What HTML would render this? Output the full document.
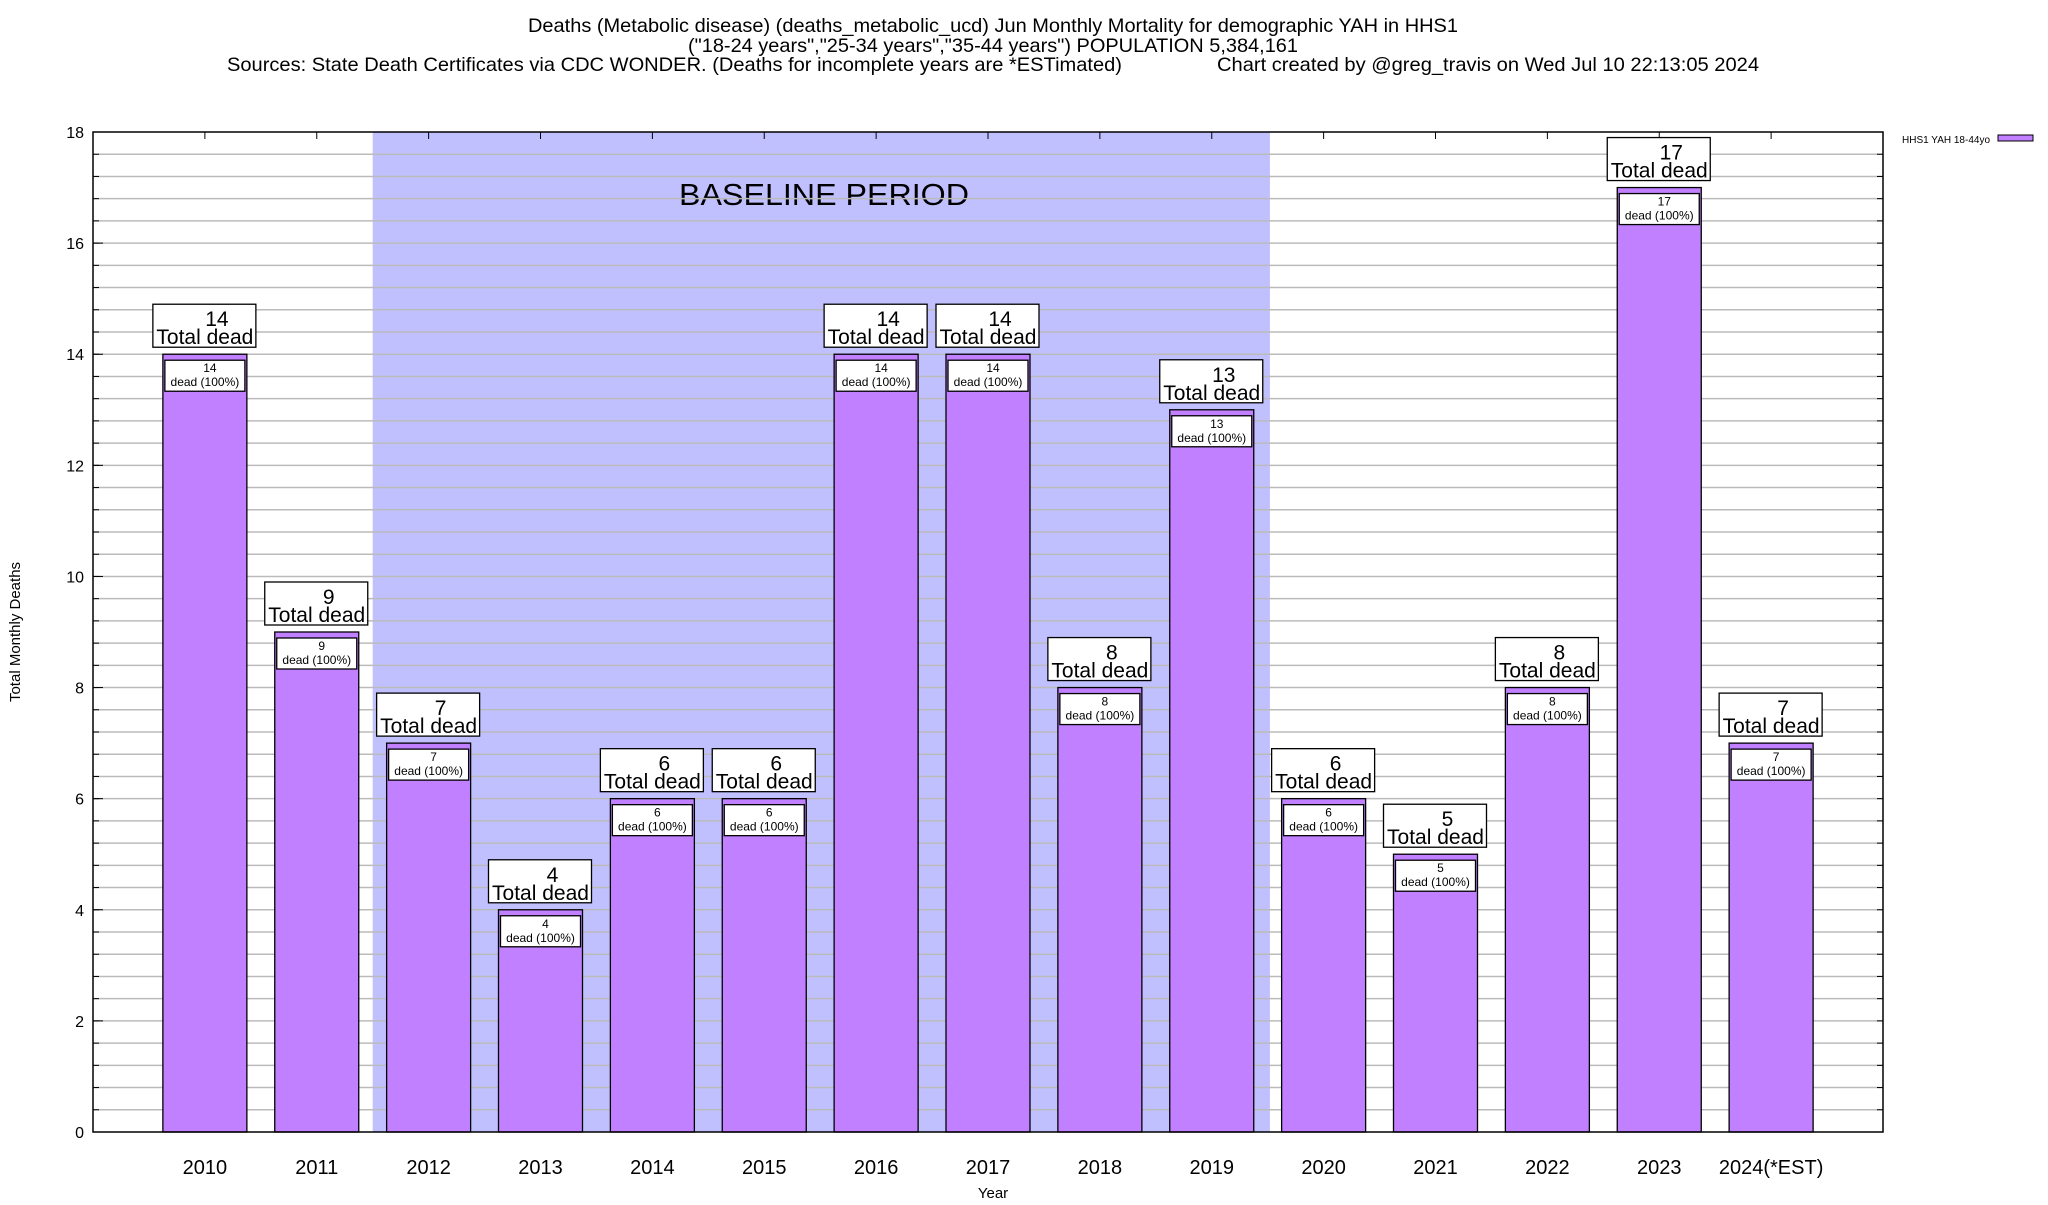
<!DOCTYPE html>
<html><head><meta charset="utf-8"><style>
body{margin:0;background:#fff;font-family:"Liberation Sans",sans-serif;}
svg text{font-family:"Liberation Sans",sans-serif;}
</style></head><body>
<svg id="chart" width="2048" height="1200" xmlns="http://www.w3.org/2000/svg">
<g font-size="19.5" fill="#000">
<text x="993" y="32" text-anchor="middle" textLength="930" lengthAdjust="spacingAndGlyphs">Deaths (Metabolic disease) (deaths_metabolic_ucd) Jun Monthly Mortality for demographic YAH in HHS1</text>
<text x="993" y="52" text-anchor="middle" textLength="610" lengthAdjust="spacingAndGlyphs">("18-24 years","25-34 years","35-44 years") POPULATION 5,384,161</text>
<text x="227" y="71" textLength="895" lengthAdjust="spacingAndGlyphs">Sources: State Death Certificates via CDC WONDER. (Deaths for incomplete years are *ESTimated)</text>
<text x="1217" y="71" textLength="542" lengthAdjust="spacingAndGlyphs">Chart created by @greg_travis on Wed Jul 10 22:13:05 2024</text>
</g>
<g id="plot"></g>
<text transform="translate(20,632) rotate(-90)" font-size="15" text-anchor="middle">Total Monthly Deaths</text>
<text x="993" y="1198" font-size="15" text-anchor="middle">Year</text>
<g>
<text x="1902" y="143" font-size="10">HHS1 YAH 18-44yo</text>
<rect x="1998" y="135" width="35" height="6" fill="#c080ff" stroke="#000" stroke-width="1"/>
</g>
</svg>
<script>
const categories=["2010","2011","2012","2013","2014","2015","2016","2017","2018","2019","2020","2021","2022","2023","2024(*EST)"];
const values=[14,9,7,4,6,6,14,14,8,13,6,5,8,17,7];
const yTicks=[0,2,4,6,8,10,12,14,16,18];
const baselineStart=1.5, baselineEnd=9.52;
const L=93,R=1883,T=132,B=1132,yMax=18,slots=16;
const sx=i=>L+(R-L)/slots*(i+1);
const sy=v=>B-(B-T)*v/yMax;
const NS="http://www.w3.org/2000/svg";
const g=document.getElementById('plot');
function el(t,a,p){const e=document.createElementNS(NS,t);for(const k in a)e.setAttribute(k,a[k]);(p||g).appendChild(e);return e;}
const bl=el('rect',{x:sx(baselineStart),y:T,width:sx(baselineEnd)-sx(baselineStart),height:B-T,fill:'#c0c0ff'});


const blt=el('text',{x:824,y:205,'font-size':31,'text-anchor':'middle',textLength:290,lengthAdjust:'spacingAndGlyphs'});blt.textContent='BASELINE PERIOD';


for(let v=0;v<=yMax+1e-6;v+=0.4){
 const y=sy(v);
 if(v>0&&v<yMax-0.01){el('line',{x1:L,x2:R,y1:y,y2:y,stroke:'#bbb','stroke-width':1.5});}
 el('line',{x1:L,x2:L+6,y1:y,y2:y,stroke:'#000'});el('line',{x1:R-6,x2:R,y1:y,y2:y,stroke:'#000'});
}
yTicks.forEach(v=>{const t=el('text',{x:84,y:sy(v)+6,'font-size':16,'text-anchor':'end'});t.textContent=v;


el('line',{x1:L,x2:L+10,y1:sy(v),y2:sy(v),stroke:'#000'});});
const bw=84;
categories.forEach((c,i)=>{
 const cx=sx(i),v=values[i],y=sy(v);
 el('line',{x1:cx,x2:cx,y1:T,y2:T+7,stroke:'#000'});
 const b=el('rect',{x:cx-bw/2,y:y,width:bw,height:B-y,fill:'#c080ff',stroke:'#000','stroke-width':1.3});
 
 
 el('rect',{x:cx-bw/2+2,y:y+6,width:bw-4,height:31,fill:'#fff',stroke:'#000','stroke-width':1.3});
 const t1=el('text',{x:cx+5,y:y+18,'font-size':12,'text-anchor':'middle'});t1.textContent=v;
 const t2=el('text',{x:cx,y:y+32,'font-size':12,'text-anchor':'middle'});t2.textContent='dead (100%)';
 const ob=el('rect',{x:cx-52,y:y-50,width:103,height:43,fill:'#fff',stroke:'#000','stroke-width':1.3});
 
 
 const t3=el('text',{x:cx+12,y:y-28,'font-size':21,'text-anchor':'middle'});t3.textContent=v;
 const t4=el('text',{x:cx,y:y-10,'font-size':21,'text-anchor':'middle'});t4.textContent='Total dead';
 const xl=el('text',{x:cx,y:1174,'font-size':20,'text-anchor':'middle'});xl.textContent=c;
 
 
});
el('rect',{x:L,y:T,width:R-L,height:B-T,fill:'none',stroke:'#000','stroke-width':1.5});
</script>
</body></html>
